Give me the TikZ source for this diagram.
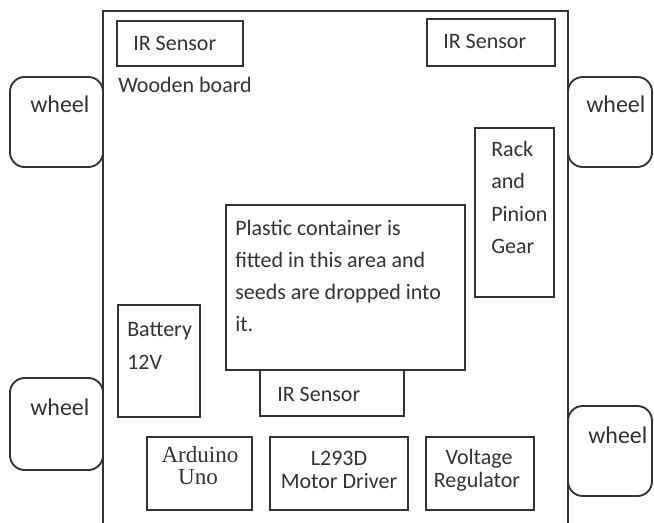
\documentclass[tikz,border=0pt]{standalone}
\usepackage{fontspec}
\setmainfont{Carlito}
\newfontfamily\serifx{Liberation Serif}
\usetikzlibrary{fit}
\definecolor{ink}{HTML}{333333}
\tikzset{
  box/.style={draw=ink, line width=1.4pt, inner sep=0pt, fill=none},
  wheelbox/.style={draw=ink, line width=1.4pt, inner sep=0pt, rounded corners=11pt},
  txt/.style={anchor=base west, inner sep=0pt, text=ink, font=\fontsize{16.5}{20}\selectfont},
  wtxt/.style={anchor=base west, inner sep=0pt, text=ink, font=\fontsize{18}{20}\selectfont},
  ctxt/.style={anchor=base, inner sep=0pt, text=ink, font=\fontsize{16.5}{20}\selectfont},
  stxt/.style={anchor=base, inner sep=0pt, text=ink, font=\serifx\fontsize{17.3}{20}\selectfont},
}
\begin{document}
\begin{tikzpicture}[x=0.75pt,y=-0.75pt]
\useasboundingbox (0,0) rectangle (654,522);
% board
\coordinate (bl) at (103,524);
\coordinate (tl) at (103,11);
\coordinate (tr) at (568,11);
\coordinate (br) at (568,524);
\draw[draw=ink, line width=1.4pt] (bl) -- (tl) -- (tr) -- (br);
% wheels
\node[wheelbox, fit={(10,77)(103,167)}] (w1) {};
\node[wheelbox, fit={(568,77)(652,167)}] (w2) {};
\node[wheelbox, fit={(10,378)(103,470)}] (w3) {};
\node[wheelbox, fit={(568,406)(652,496)}] (w4) {};
\node[wtxt] at (30,112) {wheel};
\node[wtxt] at (586,112) {wheel};
\node[wtxt] at (30,415) {wheel};
\node[wtxt] at (588,443) {wheel};
% IR sensors
\node[box, fit={(117,21)(243,66)}] (ir1) {};
\node[txt] at (133,50) {IR Sensor};
\node[box, fit={(427,19)(555,66)}] (ir2) {};
\node[txt] at (443,48) {IR Sensor};
\node[txt] at (118,92) {Wooden board};
% rack
\node[box, fit={(475,128)(554,297)}] (rack) {};
\node[txt] at (491,156) {Rack};
\node[txt] at (491,188) {and};
\node[txt] at (491,221) {Pinion};
\node[txt] at (491,253) {Gear};
% lower IR (drawn before container)
\node[box, fit={(260,370)(404,416)}] (ir3) {};
\node[txt] at (277,401) {IR Sensor};
% container
\node[box, fill=white, fit={(226,205)(465,370)}] (cont) {};
\node[txt] at (235,235) {Plastic container is};
\node[txt] at (235,267) {fitted in this area and};
\node[txt] at (235,299) {seeds are dropped into};
\node[txt] at (235,331) {it.};
% battery
\node[box, fit={(118,305)(200,417)}] (bat) {};
\node[txt] at (127,336) {Battery};
\node[txt] at (127,369) {12V};
% bottom row
\node[box, fit={(147,437)(252,510)}] (ard) {};
\node[stxt] at (200,462) {Arduino};
\node[stxt] at (198,484) {Uno};
\node[box, fit={(270,437)(408,510)}] (l293) {};
\node[ctxt] at (339,465) {L293D};
\node[ctxt] at (339,488) {Motor Driver};
\node[box, fit={(426,437)(534,510)}] (vr) {};
\node[ctxt] at (479,464) {Voltage};
\node[ctxt] at (477,487) {Regulator};
\end{tikzpicture}
\end{document}
